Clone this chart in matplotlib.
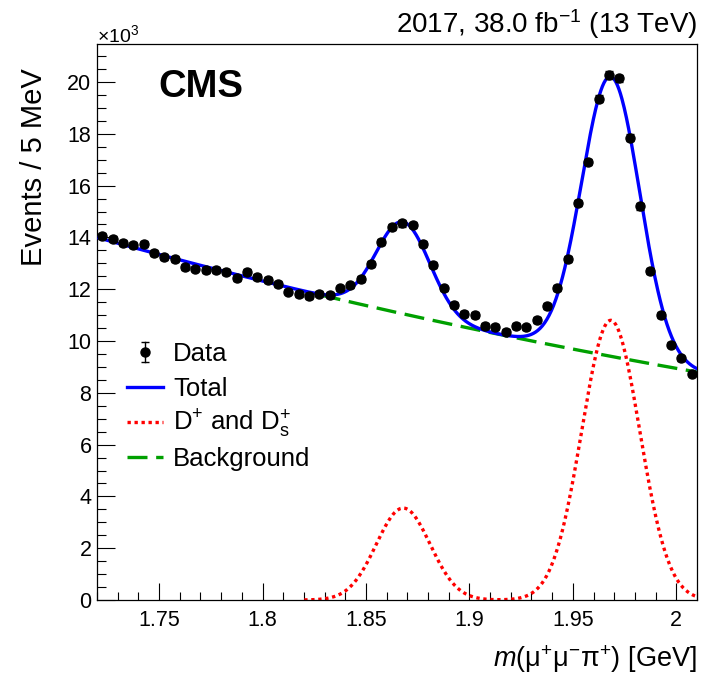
import numpy as np
import matplotlib
matplotlib.use("Agg")
import matplotlib.pyplot as plt
from matplotlib.ticker import MultipleLocator, FuncFormatter

plt.rcParams['font.family'] = ['Liberation Sans', 'DejaVu Sans']
plt.rcParams['mathtext.fontset'] = 'custom'
plt.rcParams['mathtext.rm'] = 'Liberation Sans'
plt.rcParams['mathtext.it'] = 'Liberation Sans:italic'
plt.rcParams['mathtext.bf'] = 'Liberation Sans:bold'

# ---------------- data (thousands of events per 5 MeV) ----------------
bin_low = 1.72
bin_width = 0.005
counts_k = [
    14.07, 13.95, 13.79, 13.71, 13.74, 13.40, 13.24, 13.16, 12.87, 12.80,
    12.74, 12.73, 12.66, 12.43, 12.66, 12.48, 12.35, 12.20, 11.91, 11.82,
    11.75, 11.83, 11.77, 12.03, 12.15, 12.40, 12.96, 13.81, 14.39, 14.54,
    14.47, 13.74, 12.94, 12.03, 11.39, 11.04, 11.00, 10.58, 10.54, 10.36,
    10.58, 10.53, 10.81, 11.35, 12.06, 13.17, 15.32, 16.91, 19.36, 20.28,
    20.14, 17.85, 15.20, 12.70, 11.00, 9.85, 9.33, 8.73,
]
legend_labels = ['Data', 'Total', r'D$^{+}$ and D$_{\mathrm{s}}^{+}$', 'Background']

# fit model parameters
bg_norm = 14.0       # background at 1.72 GeV (x10^3)
bg_slope = -1.60     # exponential slope (1/GeV)
dplus_mean, dplus_amp, dplus_sigma = 1.8680, 3.55, 0.0130
ds_mean, ds_amp, ds_sigma = 1.9683, 10.80, 0.0140
signal_start = 1.82
bg_start = 1.828

x_lo, x_hi = 1.72, 2.01
y_lo, y_hi = 0.0, 21.47

counts = np.array(counts_k)
mass = bin_low + bin_width * (np.arange(len(counts)) + 0.5)
errs = np.sqrt(counts * 1000.0) / 1000.0

m = np.linspace(x_lo, x_hi, 800)
bg = bg_norm * np.exp(bg_slope * (m - x_lo))
sig = (dplus_amp * np.exp(-0.5 * ((m - dplus_mean) / dplus_sigma) ** 2)
       + ds_amp * np.exp(-0.5 * ((m - ds_mean) / ds_sigma) ** 2))
total = bg + sig

W, H = 712, 677
fig = plt.figure(figsize=(W / 100, H / 100), dpi=100)
ax = fig.add_axes([97 / W, 1 - 600 / H, 600 / W, 556 / H])

blue = '#0000ff'
red = '#ff0000'
green = '#00a000'
lw = 2.4
dot = (0, (1, 1.1))
dash = (0, (6, 2.6))

ax.plot(m, total, color=blue, lw=lw, zorder=3)
ms_ = m >= signal_start
ax.plot(m[ms_], sig[ms_], color=red, lw=lw, linestyle=dot, zorder=2)
mb = m >= bg_start
ax.plot(m[mb], bg[mb], color=green, lw=lw, linestyle=dash, zorder=2)
ax.errorbar(mass, counts, yerr=errs, fmt='o', color='black', ms=6.5,
            elinewidth=1, capsize=3, zorder=4)

ax.set_xlim(x_lo, x_hi)
ax.set_ylim(y_lo, y_hi)
ax.xaxis.set_major_locator(MultipleLocator(0.05))
ax.xaxis.set_minor_locator(MultipleLocator(0.01))
ax.yaxis.set_major_locator(MultipleLocator(2))
ax.yaxis.set_minor_locator(MultipleLocator(0.5))
fmt = FuncFormatter(lambda v, p: '%g' % round(v, 3))
ax.xaxis.set_major_formatter(fmt)
ax.yaxis.set_major_formatter(fmt)
ax.tick_params(axis='both', which='both', direction='in', top=False, right=False,
               width=0.8, labelsize=15.5)
ax.tick_params(axis='x', which='major', length=12, pad=7)
ax.tick_params(axis='x', which='minor', length=6)
ax.tick_params(axis='y', which='major', length=13, pad=4)
ax.tick_params(axis='y', which='minor', length=6.5)
for s in ax.spines.values():
    s.set_linewidth(0.9)

# texts
fig.text(697 / W, 1 - 33 / H, r'2017, 38.0 fb$^{-1}$ (13 TeV)', ha='right',
         va='baseline', fontsize=20)
fig.text(97 / W, 1 - 42 / H, r'$\times$10$^{3}$', ha='left', va='baseline', fontsize=14)
fig.text(158 / W, 1 - 97 / H, 'CMS', ha='left', va='baseline', fontsize=27.5,
         fontweight='bold')
fig.text(34 / W, 1 - 68 / H, 'Events / 5 MeV', rotation=90, ha='center', va='top',
         fontsize=21)
fig.text(697 / W, 1 - 667 / H, r'$m$(μ$^{+}$μ$^{-}$π$^{+}$) [GeV]', ha='right',
         va='baseline', fontsize=19.5)

# legend (drawn in pixel-derived axes fractions)
def fx(px):
    return (px - 97) / 600.0


def fy(py):
    return (600 - py) / 556.0


row_center = [352, 387, 422, 457]
tr = ax.transAxes
yc = row_center[0]
ax.plot([fx(145)], [fy(yc)], 'o', color='black', ms=6.5, transform=tr, clip_on=False)
ax.plot([fx(145), fx(145)], [fy(yc - 10), fy(yc + 10)], color='black', lw=1,
        transform=tr, clip_on=False)
ax.plot([fx(145), fx(145)], [fy(yc - 10), fy(yc + 10)], linestyle='none', marker='_',
        ms=6, mew=1, color='black', transform=tr, clip_on=False)
ax.plot([fx(127), fx(163)], [fy(row_center[1])] * 2, color=blue, lw=lw,
        transform=tr, clip_on=False)
ax.plot([fx(127), fx(163)], [fy(row_center[2])] * 2, color=red, lw=lw, linestyle=dot,
        transform=tr, clip_on=False)
ax.plot([fx(127), fx(163)], [fy(row_center[3])] * 2, color=green, lw=lw,
        linestyle=dash, transform=tr, clip_on=False)
for lab, yc in zip(legend_labels, row_center):
    ax.text(fx(173), fy(yc + 9), lab, transform=tr, ha='left', va='baseline',
            fontsize=18.5)

fig.savefig('out.png', dpi=100)
